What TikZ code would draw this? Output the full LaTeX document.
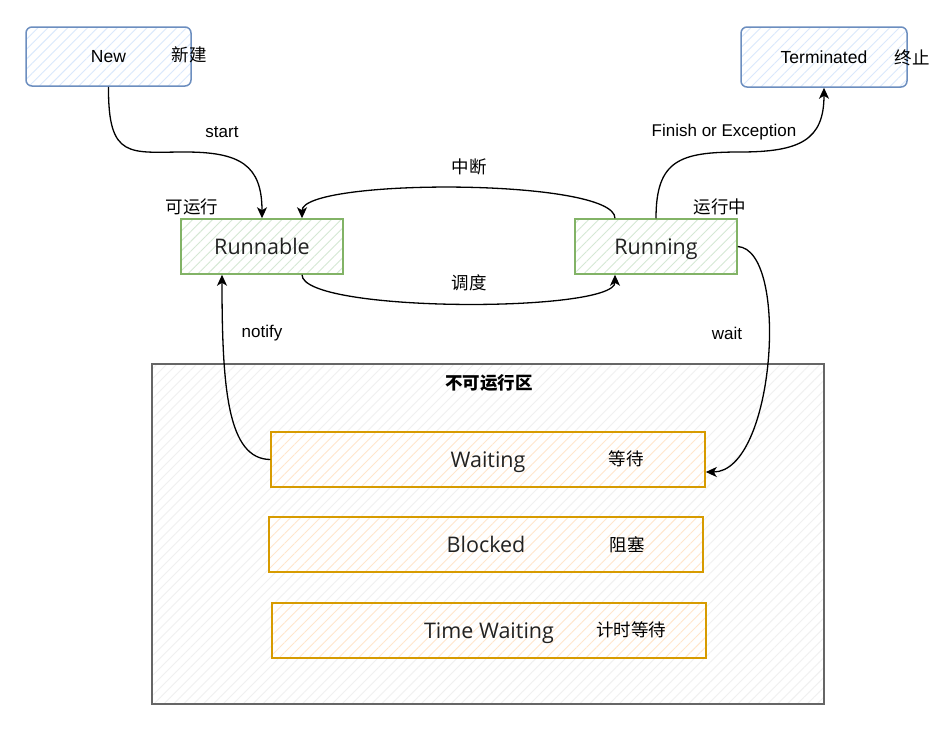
\documentclass[tikz,border=0pt]{standalone}
\usepackage{fontspec}
\setmainfont{Liberation Sans}
\newfontfamily\segoe{Open Sans}
\newfontfamily\cjk{Noto Sans CJK SC}
\usetikzlibrary{patterns.meta,arrows.meta}
\definecolor{bluestroke}{HTML}{6C8EBF}
\definecolor{bluefill}{HTML}{DAE8FC}
\definecolor{greenstroke}{HTML}{82B366}
\definecolor{greenfill}{HTML}{D5E8D4}
\definecolor{orangestroke}{HTML}{D79B00}
\definecolor{orangefill}{HTML}{FFE6CC}
\definecolor{graystroke}{HTML}{666666}
\definecolor{txtgray}{HTML}{222222}
\tikzset{
  hatch/.style={preaction={fill=white},pattern={Lines[angle=45,distance=7pt,line width=0.9pt]},pattern color=#1},
  bluebox/.style={draw=bluestroke,line width=1.5pt,rounded corners=6pt,hatch=bluefill,
    minimum width=165pt,minimum height=59pt,inner sep=0pt,font=\fontsize{17.5}{20}\selectfont},
  greenbox/.style={draw=greenstroke,line width=1.5pt,hatch=greenfill,
    minimum width=162pt,minimum height=55pt,inner sep=0pt,text=txtgray,text height=16pt,text depth=0pt,
    font=\segoe\fontsize{21.5}{24}\selectfont},
  orangebox/.style={draw=orangestroke,line width=1.5pt,hatch=orangefill,
    minimum width=434pt,minimum height=55pt,inner sep=0pt,text=txtgray,text height=16pt,text depth=0pt,
    font=\segoe\fontsize{21.5}{24}\selectfont},
  lbl/.style={inner sep=0pt,font=\fontsize{17}{20}\selectfont},
  cjklbl/.style={inner sep=0pt,font=\cjk\fontsize{17.5}{20}\selectfont},
  conn/.style={line width=1.3pt,-{Stealth[length=11pt,width=10pt,inset=3pt]}},
}
\begin{document}
\begin{tikzpicture}[x=1pt,y=-1pt]
\useasboundingbox (0,0) rectangle (949,739);
% outer region
\node[draw=graystroke,line width=1.3pt,hatch=black!6,minimum width=672pt,minimum height=340pt,inner sep=0pt] (zone) at (488,534) {};
\node[inner sep=0pt,font=\cjk\bfseries\fontsize{17.5}{20}\selectfont] (zonetitle) at (489,383) {不可运行区};
% nodes
\node[bluebox] (new) at (108.5,56.5) {New};
\node[cjklbl] (newcn) at (189,55) {新建};
\node[bluebox,minimum width=166pt,minimum height=60pt] (term) at (824,57) {Terminated};
\node[cjklbl] (termcn) at (912,58) {终止};
\node[greenbox] (runnable) at (262,246.5) {Runnable};
\node[cjklbl] (runnablecn) at (192,207) {可运行};
\node[greenbox] (running) at (656,246.5) {Running};
\node[cjklbl] (runningcn) at (720,207) {运行中};
\node[orangebox] (waiting) at (488,459.5) {Waiting};
\node[cjklbl] (waitingcn) at (626,459) {等待};
\node[orangebox] (blocked) at (486,544.5) {Blocked};
\node[cjklbl] (blockedcn) at (627,545) {阻塞};
\node[orangebox] (timed) at (489,630.5) {Time Waiting};
\node[cjklbl] (timedcn) at (631,630) {计时等待};
% connectors
\draw[conn] (new.south) .. controls (108,160) and (130,152) .. (185,152)
  .. controls (240,152) and (262,165) .. (runnable.north);
\node[lbl] (lstart) at (222,132) {start};
\draw[conn] ([xshift=-41pt]running.north) .. controls (615,178) and (302,178) .. ([xshift=40pt]runnable.north);
\node[cjklbl] (linterrupt) at (469,167) {中断};
\draw[conn] ([xshift=40pt]runnable.south) .. controls (302,313) and (615,313) .. ([xshift=-41pt]running.south);
\node[cjklbl] (lsched) at (469,283) {调度};
\draw[conn] (running.north) .. controls (656,160) and (680,152) .. (740,152)
  .. controls (800,152) and (824,140) .. (term.south);
\node[lbl] (lfinish) at (724,132) {Finish or Exception};
\draw[conn] (running.east) .. controls (790,250) and (775,472) .. ([yshift=-12.5pt]waiting.east);
\node[lbl] (lwait) at (727,333) {wait};
\draw[conn] (waiting.west) .. controls (228,459) and (222,390) .. ([xshift=-40pt]runnable.south);
\node[lbl] (lnotify) at (262,333) {notify};
\end{tikzpicture}
\end{document}
